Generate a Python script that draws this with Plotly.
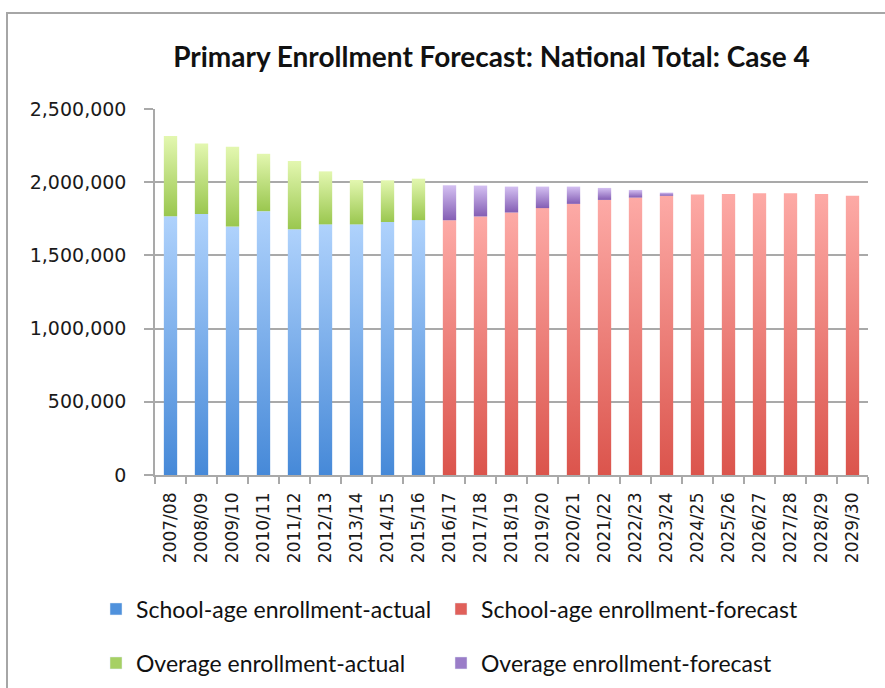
import plotly.graph_objects as go

# School years on the category axis
years = [
    "2007/08", "2008/09", "2009/10", "2010/11", "2011/12", "2012/13", "2013/14",
    "2014/15", "2015/16", "2016/17", "2017/18", "2018/19", "2019/20", "2020/21",
    "2021/22", "2022/23", "2023/24", "2024/25", "2025/26", "2026/27", "2027/28",
    "2028/29", "2029/30",
]

# Actual enrollment (2007/08 - 2015/16)
school_age_actual = [1768000, 1782000, 1698000, 1802000, 1678000, 1712000, 1712000, 1728000, 1741000]
overage_actual = [548000, 482000, 544000, 392000, 466000, 362000, 303000, 285000, 283000]

# Forecast enrollment (2016/17 - 2029/30)
school_age_forecast = [1740000, 1766000, 1793000, 1823000, 1852000, 1879000, 1895000,
                       1907000, 1916000, 1920000, 1924000, 1924000, 1920000, 1907000]
overage_forecast = [239000, 211000, 177000, 147000, 118000, 82000, 52000,
                    22000, 0, 0, 0, 0, 0, 0]

y_ticks = [0, 500000, 1000000, 1500000, 2000000, 2500000]

series_names = [
    "School-age enrollment-actual",
    "School-age enrollment-forecast",
    "Overage enrollment-actual",
    "Overage enrollment-forecast",
]

# (dark bottom, light top) gradient pairs and the legend swatch colour
styles = {
    "School-age enrollment-actual": ("#4689d8", "#afd2fc", "#4f91dc"),
    "School-age enrollment-forecast": ("#db544c", "#fdaaa6", "#e0605a"),
    "Overage enrollment-actual": ("#9ac74f", "#e3f7b0", "#a6d064"),
    "Overage enrollment-forecast": ("#845eb4", "#d4c0f2", "#9a7dc8"),
}

BAR_W = 0.43
GRAY = "#a9a9a9"
W, H = 885, 688
L, R, T, B = 155, 17, 109, 213
PW, PH = W - L - R, H - T - B


def px_x(px):
    """Horizontal pixel position -> paper coordinate."""
    return (px - L) / PW


def px_y(py):
    """Vertical pixel position (from top) -> paper coordinate."""
    return (H - B - py) / PH


n_act = len(school_age_actual)
bottom_series = [
    ("School-age enrollment-actual", list(range(n_act)), school_age_actual, [0] * n_act),
    ("School-age enrollment-forecast", list(range(n_act, len(years))), school_age_forecast,
     [0] * len(school_age_forecast)),
    ("Overage enrollment-actual", list(range(n_act)), overage_actual, school_age_actual),
    ("Overage enrollment-forecast", list(range(n_act, len(years))), overage_forecast,
     school_age_forecast),
]

fig = go.Figure()

# Each stacked segment is a filled rectangle with a vertical gradient
for name, idx, vals, bases in bottom_series:
    dark, light, _ = styles[name]
    for i, v, b in zip(idx, vals, bases):
        if v <= 0:
            continue
        top = b + v
        fig.add_trace(go.Scatter(
            x=[i - BAR_W / 2, i + BAR_W / 2, i + BAR_W / 2, i - BAR_W / 2, i - BAR_W / 2],
            y=[b, b, top, top, b],
            mode="lines",
            line=dict(width=0),
            fill="toself",
            fillgradient=dict(
                type="vertical",
                colorscale=[[0, dark], [1, light]],
                start=b,
                stop=top,
            ),
            name=name,
            legendgroup=name,
            showlegend=False,
            hoveron="fills",
            text=f"{name}<br>{years[i]}: {v:,}",
            hoverinfo="text",
        ))

# Legend keys: two rows, two entries each (left column narrower than right)
for k, name in enumerate(series_names):
    fig.add_trace(go.Bar(
        x=[None], y=[None],
        name=name,
        legendgroup=name,
        marker=dict(color=styles[name][2]),
        legend="legend" if k < 2 else "legend2",
        legendwidth=300 if k % 2 == 0 else 330,
    ))

legend_common = dict(
    orientation="h",
    xanchor="left",
    yanchor="middle",
    x=px_x(96),
    font=dict(family="Lato", size=23, color="#111111"),
    bgcolor="rgba(0,0,0,0)",
    itemclick=False,
    itemdoubleclick=False,
)

fig.update_layout(
    width=W,
    height=H,
    margin=dict(l=L, r=R, t=T, b=B, autoexpand=False),
    paper_bgcolor="white",
    plot_bgcolor="white",
    title=dict(
        text="<b>Primary Enrollment Forecast: National Total: Case 4</b>",
        x=491.5 / W,
        xanchor="center",
        xref="container",
        y=1 - 57 / H,
        yanchor="middle",
        font=dict(family="Lato", size=28, color="#111111"),
    ),
    legend=dict(y=px_y(609), **legend_common),
    legend2=dict(y=px_y(663), **legend_common),
    xaxis=dict(
        range=[-0.5, len(years) - 0.5],
        tickmode="array",
        tickvals=list(range(len(years))),
        ticktext=years,
        tickangle=-90,
        ticks="",
        showgrid=False,
        showline=True,
        linecolor=GRAY,
        linewidth=1.5,
        zeroline=False,
        ticklabelstandoff=9,
        tickfont=dict(family="DejaVu Sans", size=17, color="#1a1a1a"),
        minor=dict(
            tickmode="linear",
            tick0=-0.5,
            dtick=1,
            ticks="outside",
            ticklen=7,
            tickwidth=1.5,
            tickcolor=GRAY,
            showgrid=False,
        ),
        fixedrange=True,
    ),
    yaxis=dict(
        range=[0, 2500000],
        tickmode="array",
        tickvals=y_ticks,
        tickformat=",d",
        ticks="outside",
        ticklen=9,
        tickwidth=1.5,
        tickcolor=GRAY,
        showgrid=True,
        gridcolor=GRAY,
        gridwidth=1.5,
        showline=True,
        linecolor=GRAY,
        linewidth=1.5,
        zeroline=False,
        ticklabelstandoff=14,
        tickfont=dict(family="DejaVu Sans", size=19, color="#1a1a1a"),
        fixedrange=True,
    ),
    shapes=[
        # Outer chart frame
        dict(
            type="rect",
            xref="paper", yref="paper",
            x0=px_x(7), x1=1.2,
            y0=-1.0, y1=px_y(13),
            line=dict(color="#a6a6a6", width=2),
            fillcolor="rgba(0,0,0,0)",
            layer="below",
        )
    ],
    showlegend=True,
)

fig.write_html("out.html")
